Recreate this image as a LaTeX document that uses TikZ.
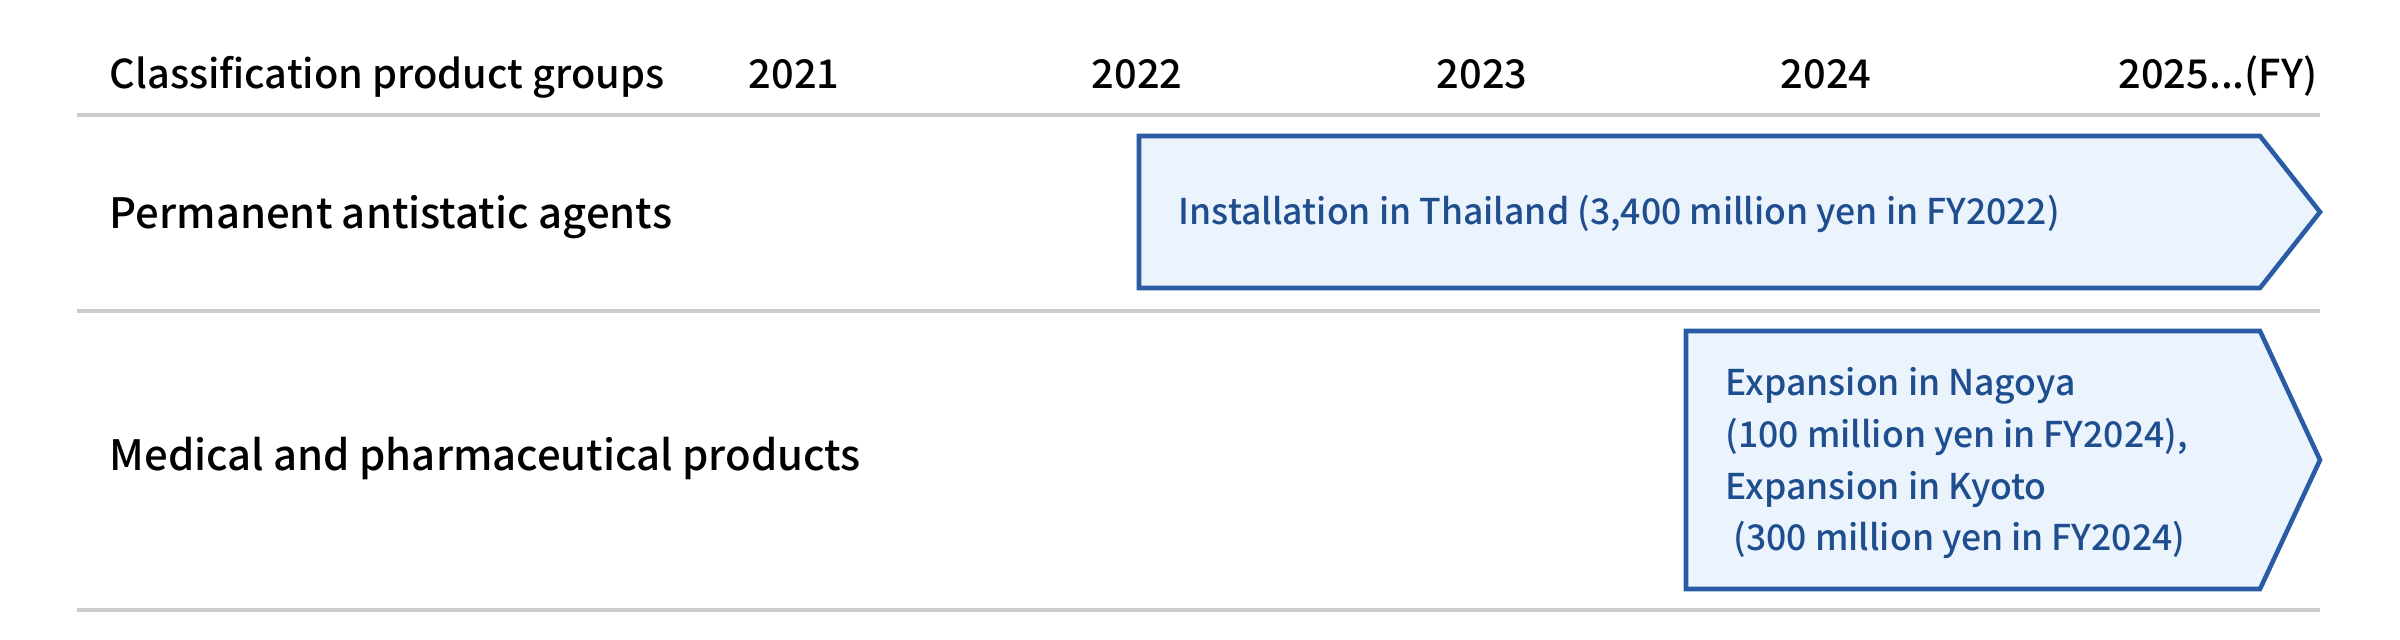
\documentclass[tikz,border=0pt]{standalone}
\usepackage{fontspec}
\setmainfont{Noto Sans CJK JP}
\newfontfamily\medfont{Noto Sans CJK JP Medium}
\usepackage{xcolor}
\definecolor{rulegray}{HTML}{CCCCCC}
\definecolor{phaseline}{HTML}{2A5BA5}
\definecolor{phasefill}{HTML}{EBF3FD}
\definecolor{phasetext}{HTML}{1F4E8F}

\tikzset{
  head/.style={anchor=base, font=\medfont\fontsize{11.3}{14}\selectfont},
  group/.style={anchor=base west, inner sep=0pt, font=\medfont\fontsize{11.9}{15}\selectfont},
  phase/.style={draw=phaseline, fill=phasefill, line width=1.3pt, line join=miter},
  phasenote/.style={anchor=base west, text=phasetext, align=left, inner sep=0pt,
    font=\medfont\fontsize{10.1}{14.7}\selectfont},
  rowline/.style={draw=rulegray, line width=1pt}
}

\begin{document}
\begin{tikzpicture}[x=0.01cm, y=-0.01cm]
  \useasboundingbox (0,0) rectangle (2400,640);
  % header
  \node[head, anchor=base west, inner sep=0pt] (hclass) at (109,89) {Classification product groups};
  \node[head] (y21) at (794,89) {2021};
  \node[head] (y22) at (1137,89) {2022};
  \node[head] (y23) at (1482,89) {2023};
  \node[head] (y24) at (1826,89) {2024};
  \node[head, anchor=base east, inner sep=0pt] (y25) at (2318,89) {2025...(FY)};
  % rows
  \draw[rowline] (77,115) -- (2320,115);
  \draw[rowline] (77,311) -- (2320,311);
  \draw[rowline] (77,610) -- (2320,610);
  \node[group] (antistatic) at (109,229) {Permanent antistatic agents};
  \node[group] (medical) at (109,471) {Medical and pharmaceutical products};
  % phases
  \draw[phase] (1139,136) -- (2260,136) -- (2320,212) -- (2260,288) -- (1139,288) -- cycle;
  \node[phasenote] (thailand) at (1178,225) {Installation in Thailand (3,400 million yen in FY2022)};
  \draw[phase] (1686,331) -- (2260,331) -- (2320,460) -- (2260,589) -- (1686,589) -- cycle;
  \node[phasenote, anchor=north west] (nagoya) at (1725,367)
    {Expansion in Nagoya\\(100 million yen in FY2024),\\Expansion in Kyoto\\\ (300 million yen in FY2024)};
\end{tikzpicture}
\end{document}
